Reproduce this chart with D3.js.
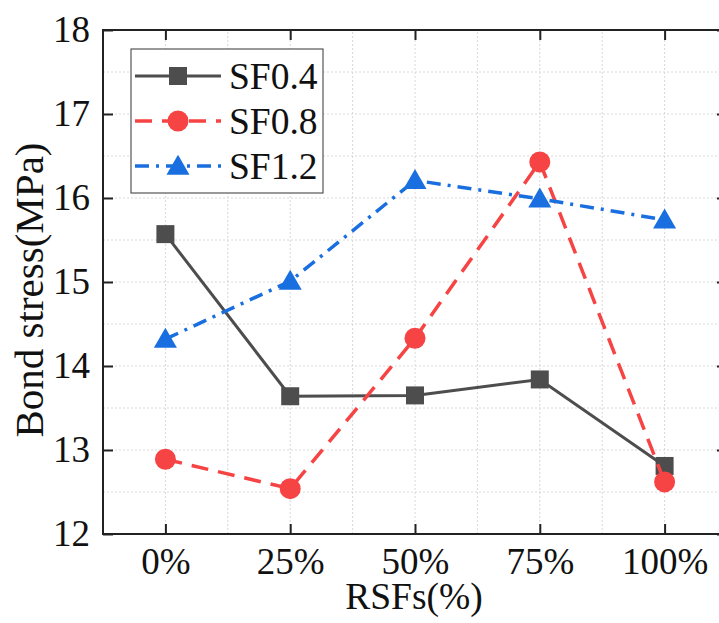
<!DOCTYPE html>
<html>
<head>
<meta charset="utf-8">
<script src="https://cdn.jsdelivr.net/npm/d3@7"></script>
<style>
  body { margin: 0; background: #fff; overflow: hidden; }
  svg text { font-family: "Liberation Serif", "Times New Roman", serif; fill: #111; }
</style>
</head>
<body>
<div id="chart"></div>
<script>
// data
const categories = ['0%', '25%', '50%', '75%', '100%'];
const sf04 = [15.57, 13.64, 13.65, 13.84, 12.81];
const sf08 = [12.89, 12.54, 14.33, 16.43, 12.62];
const sf12 = [14.32, 15.01, 16.21, 15.99, 15.74];
const yTicks = [12, 13, 14, 15, 16, 17, 18];

const FONT = '"Liberation Serif", "Times New Roman", serif';

const series = [
  { name: 'SF0.4', values: sf04, color: '#4d4d4d', dash: null, width: 3, shape: 'square' },
  { name: 'SF0.8', values: sf08, color: '#f64343', dash: '17,10', width: 3.5, shape: 'circle' },
  { name: 'SF1.2', values: sf12, color: '#1a6fe0', dash: '14,7,3,7', width: 3.5, shape: 'triangle' }
];

const width = 719, height = 623;
// the right frame edge sits just past the picture, as in the original crop
const margin = { top: 30, right: -8, bottom: 89, left: 103 };

const svg = d3.select('#chart').append('svg')
  .attr('width', width)
  .attr('height', height)
  .attr('font-family', FONT);

const x = d3.scaleLinear()
  .domain([-0.5, 4.5])
  .range([margin.left, width - margin.right]);

const y = d3.scaleLinear()
  .domain([12, 18])
  .range([height - margin.bottom, margin.top]);

const x0 = margin.left, x1 = width - margin.right;
const y0 = height - margin.bottom, y1 = margin.top;

// grid (dotted, every half step)
const grid = svg.append('g');
d3.range(12.5, 18, 0.5).forEach(v => {
  grid.append('line')
    .attr('x1', x0).attr('x2', x1)
    .attr('y1', y(v)).attr('y2', y(v))
    .attr('stroke', '#d8d8d8').attr('stroke-width', 1)
    .attr('stroke-dasharray', '2,2');
});
d3.range(0, 4.5, 0.5).forEach(v => {
  grid.append('line')
    .attr('x1', x(v)).attr('x2', x(v))
    .attr('y1', y0).attr('y2', y1)
    .attr('stroke', '#d8d8d8').attr('stroke-width', 1)
    .attr('stroke-dasharray', '2,2');
});

// series lines
const line = d3.line()
  .x((d, i) => x(i))
  .y(d => y(d));

const symbolFor = shape => {
  if (shape === 'square') return d3.symbol().type(d3.symbolSquare).size(18 * 18);
  if (shape === 'circle') return d3.symbol().type(d3.symbolCircle).size(Math.PI * 10.5 * 10.5);
  return d3.symbol().type(d3.symbolTriangle).size(230);
};

series.forEach(s => {
  svg.append('path')
    .datum(s.values)
    .attr('fill', 'none')
    .attr('stroke', s.color)
    .attr('stroke-width', s.width)
    .attr('stroke-dasharray', s.dash)
    .attr('d', line);

  svg.append('g').selectAll('path')
    .data(s.values)
    .join('path')
    .attr('transform', (d, i) => `translate(${x(i)},${y(d) + (s.shape === 'triangle' ? 2 : 0)})`)
    .attr('d', symbolFor(s.shape)())
    .attr('fill', s.color);
});

// axes (ticks inward)
const tickLen = 10;
const styleTicks = g => {
  g.attr('font-family', FONT);
  g.select('.domain').remove();
  g.selectAll('.tick line').attr('stroke', '#222').attr('stroke-width', 2);
  g.selectAll('.tick text').attr('font-size', 37).attr('fill', '#111').attr('font-family', FONT);
};

svg.append('g')
  .attr('transform', `translate(${x0},0)`)
  .call(d3.axisLeft(y).tickValues(yTicks).tickFormat(d3.format('d')).tickSize(-tickLen).tickPadding(13))
  .call(styleTicks);

svg.append('g')
  .attr('transform', `translate(${x1},0)`)
  .call(d3.axisRight(y).tickValues(yTicks).tickSize(-tickLen).tickFormat(''))
  .call(styleTicks);

svg.append('g')
  .attr('transform', `translate(0,${y0})`)
  .call(d3.axisBottom(x).tickValues(d3.range(categories.length))
    .tickFormat(i => categories[i]).tickSize(-tickLen).tickPadding(14))
  .call(styleTicks);

svg.append('g')
  .attr('transform', `translate(0,${y1})`)
  .call(d3.axisTop(x).tickValues(d3.range(categories.length)).tickSize(-tickLen).tickFormat(''))
  .call(styleTicks);

// frame
svg.append('rect')
  .attr('x', x0).attr('y', y1)
  .attr('width', x1 - x0).attr('height', y0 - y1)
  .attr('fill', 'none')
  .attr('stroke', '#222')
  .attr('stroke-width', 2);

// axis titles
svg.append('text')
  .attr('x', 414)
  .attr('y', 609)
  .attr('text-anchor', 'middle')
  .attr('font-size', 37.5)
  .text('RSFs(%)');

svg.append('text')
  .attr('transform', 'translate(43,290) rotate(-90)')
  .attr('text-anchor', 'middle')
  .attr('font-size', 41)
  .text('Bond stress(MPa)');

// legend
const legend = svg.append('g');
legend.append('rect')
  .attr('x', 131).attr('y', 49)
  .attr('width', 192).attr('height', 144)
  .attr('fill', '#fff')
  .attr('stroke', '#555')
  .attr('stroke-width', 1.2);

series.forEach((s, i) => {
  const ly = 76 + i * 45;
  const g = legend.append('g');
  g.append('line')
    .attr('x1', 135).attr('x2', 221)
    .attr('y1', ly).attr('y2', ly)
    .attr('stroke', s.color)
    .attr('stroke-width', s.width)
    .attr('stroke-dasharray', s.dash);
  g.append('path')
    .attr('transform', `translate(178,${ly + (s.shape === 'triangle' ? 2 : 0)})`)
    .attr('d', symbolFor(s.shape)())
    .attr('fill', s.color);
  g.append('text')
    .attr('x', 229)
    .attr('y', ly + 13)
    .attr('font-size', 37.5)
    .text(s.name);
});
</script>
</body>
</html>
